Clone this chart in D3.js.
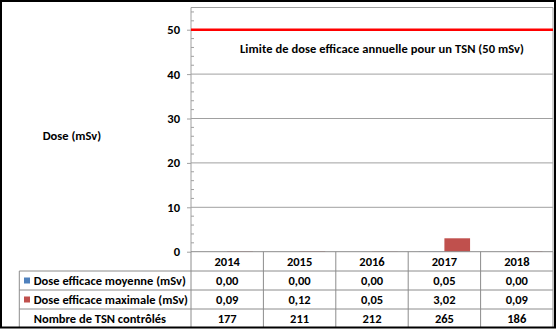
<!DOCTYPE html>
<html>
<head>
<meta charset="utf-8">
<script src="https://cdn.jsdelivr.net/npm/d3@7"></script>
<style>
  html, body { margin: 0; padding: 0; background: #fff; }
  svg { display: block; }
  text { font-family: Carlito, Lato, "Liberation Sans", sans-serif; font-weight: bold; fill: #000; }
</style>
</head>
<body>
<svg id="chart" width="556" height="329"></svg>
<script>
// Years shown on the category axis / table header
const years = ["2014", "2015", "2016", "2017", "2018"];
// Average effective dose (mSv)
const doseMoyenne = [0.00, 0.00, 0.00, 0.05, 0.00];
// Maximum effective dose (mSv)
const doseMaximale = [0.09, 0.12, 0.05, 3.02, 0.09];
// Number of monitored workers
const nombreTSN = [177, 211, 212, 265, 186];
// Annual limit
const limiteAnnuelle = 50;
const yTicks = [0, 10, 20, 30, 40, 50];

const seriesNames = ["Dose efficace moyenne (mSv)", "Dose efficace maximale (mSv)"];
const seriesColors = ["#4F81BD", "#C0504D"];

const svg = d3.select("#chart");
const W = 556, H = 329;
const fs = "12.5px";

const plotL = 191, plotR = 553, plotT = 7.5, plotB = 251.7;
const tableL = 19.3;
const rowEdges = [plotB, 271, 290, 309, 327.5];

const x = d3.scaleBand().domain(years).range([plotL, plotR]).padding(0);
const xs = d3.scaleBand().domain([0, 1]).range([0, x.bandwidth()]).paddingInner(0).paddingOuter(0.41);
const y = d3.scaleLinear().domain([0, 55]).range([plotB, plotT]);

const grid = "#a0a0a0";

// gridlines
svg.append("g").selectAll("line").data(yTicks.filter(d => d > 0 && d < limiteAnnuelle))
  .join("line")
  .attr("x1", plotL).attr("x2", plotR)
  .attr("y1", d => y(d)).attr("y2", d => y(d))
  .attr("stroke", grid).attr("stroke-width", 1);

// plot border (top and right)
svg.append("path")
  .attr("d", `M${plotL},${plotT}H${plotR}V${plotB}`)
  .attr("fill", "none").attr("stroke", grid).attr("stroke-width", 1);

// minor ticks every 2 mSv, inside the plot
const minor = d3.range(0, 55.01, 2).filter(d => d % 10 !== 0);
svg.append("g").selectAll("line").data(minor).join("line")
  .attr("x1", plotL).attr("x2", plotL + 3)
  .attr("y1", d => y(d)).attr("y2", d => y(d))
  .attr("stroke", grid);

// y axis
const yAxis = d3.axisLeft(y).tickValues(yTicks).tickSize(4).tickPadding(7).tickFormat(d3.format("d"));
const ga = svg.append("g").attr("transform", `translate(${plotL},0)`).call(yAxis);
ga.select(".domain").attr("stroke", grid).attr("d", `M0,${plotT}V${plotB}`);
ga.selectAll(".tick line").attr("stroke", grid);
ga.selectAll(".tick text").style("font-size", fs).style("font-family", null).attr("fill", "#000");

// bars
const seriesData = [doseMoyenne, doseMaximale];
seriesData.forEach((vals, si) => {
  svg.append("g").selectAll("rect").data(vals).join("rect")
    .attr("x", (d, i) => x(years[i]) + xs(si))
    .attr("width", xs.bandwidth())
    .attr("y", d => y(d))
    .attr("height", d => y(0) - y(d))
    .attr("fill", seriesColors[si]);
});

// annual limit line
svg.append("line")
  .attr("x1", plotL).attr("x2", plotR)
  .attr("y1", y(limiteAnnuelle)).attr("y2", y(limiteAnnuelle))
  .attr("stroke", "#FF0000").attr("stroke-width", 2.5);

svg.append("text")
  .attr("x", 240).attr("y", 52.5)
  .attr("textLength", 284).attr("lengthAdjust", "spacing")
  .style("font-size", fs)
  .text("Limite de dose efficace annuelle pour un TSN (50 mSv)");

// axis title
svg.append("text")
  .attr("x", 42.7).attr("y", 139.5)
  .style("font-size", fs)
  .text("Dose (mSv)");

// data table lines
const tl = svg.append("g").attr("stroke", "#8c8c8c").attr("stroke-width", 1);
rowEdges.slice(1, 4).forEach(ry => tl.append("line").attr("x1", tableL).attr("x2", plotR).attr("y1", ry).attr("y2", ry));
tl.append("line").attr("x1", plotL).attr("x2", plotR).attr("y1", plotB).attr("y2", plotB);
tl.append("line").attr("x1", tableL).attr("x2", tableL).attr("y1", rowEdges[1]).attr("y2", rowEdges[4]);
years.forEach(yr => tl.append("line").attr("x1", x(yr)).attr("x2", x(yr)).attr("y1", plotB).attr("y2", rowEdges[4]));
tl.append("line").attr("x1", plotR).attr("x2", plotR).attr("y1", plotB).attr("y2", rowEdges[4]);

const rowMid = i => (rowEdges[i] + rowEdges[i + 1]) / 2;
const fmt = v => d3.format(".2f")(v).replace(".", ",");
const rows = [years, doseMoyenne.map(fmt), doseMaximale.map(fmt), nombreTSN.map(String)];
rows.forEach((vals, ri) => {
  svg.append("g").selectAll("text").data(vals).join("text")
    .attr("x", (d, i) => x(years[i]) + x.bandwidth() / 2)
    .attr("y", rowMid(ri))
    .attr("dy", "0.35em")
    .attr("text-anchor", "middle")
    .style("font-size", fs)
    .text(d => d);
});

// row headers with legend keys
seriesNames.forEach((name, si) => {
  const cy = rowMid(si + 1);
  svg.append("rect").attr("x", 24).attr("y", cy - 3).attr("width", 6).attr("height", 6).attr("fill", seriesColors[si]);
  svg.append("text").attr("x", 33.7).attr("y", cy).attr("dy", "0.35em").style("font-size", fs).text(name);
});
svg.append("text").attr("x", 33.7).attr("y", rowMid(3)).attr("dy", "0.35em").style("font-size", fs).text("Nombre de TSN contrôlés");

// outer frame
svg.append("rect").attr("x", 1).attr("y", 1).attr("width", W - 2).attr("height", H - 2.5)
  .attr("fill", "none").attr("stroke", "#000").attr("stroke-width", 2);
</script>
</body>
</html>
